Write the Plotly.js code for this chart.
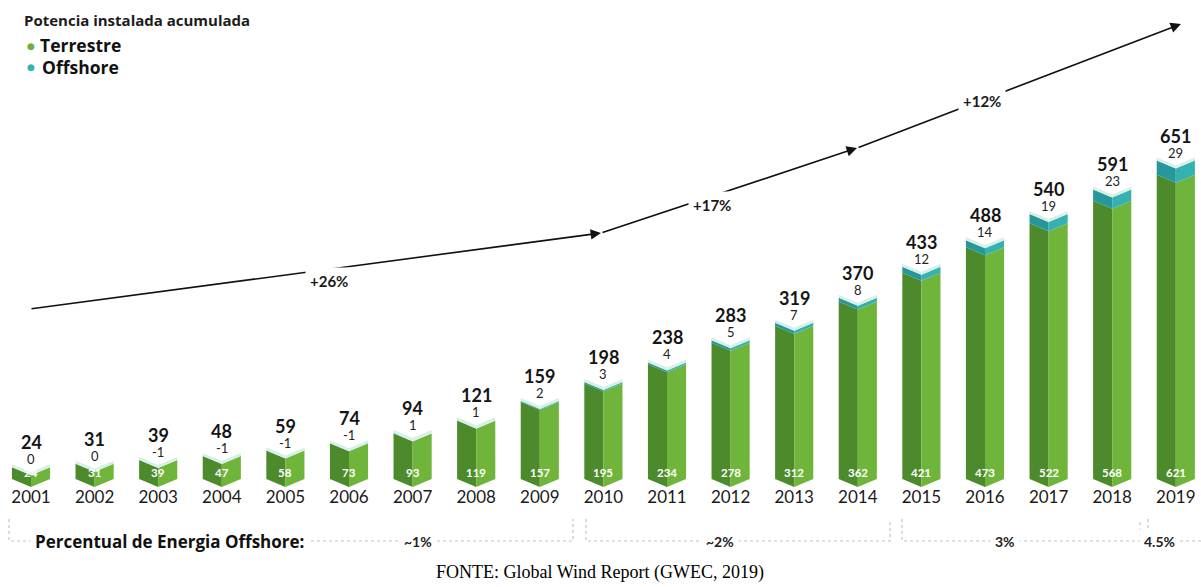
<!DOCTYPE html>
<html>
<head>
<meta charset="utf-8">
<script src="https://cdn.plot.ly/plotly-3.0.1.min.js"></script>
<style>
  html, body { margin: 0; padding: 0; background: #ffffff; }
  #chart { width: 1201px; height: 587px; }
</style>
</head>
<body>
<div id="chart"></div>
<script>
// Potência eólica instalada acumulada (GW), 2001–2019
const years      = [2001, 2002, 2003, 2004, 2005, 2006, 2007, 2008, 2009, 2010, 2011, 2012, 2013, 2014, 2015, 2016, 2017, 2018, 2019];
const totals     = [24, 31, 39, 48, 59, 74, 94, 121, 159, 198, 238, 283, 319, 370, 433, 488, 540, 591, 651];
const terrestre  = [24, 31, 39, 47, 58, 73, 93, 119, 157, 195, 234, 278, 312, 362, 421, 473, 522, 568, 621];
const offshore   = [0, 0, -1, -1, -1, -1, 1, 1, 2, 3, 4, 5, 7, 8, 12, 14, 19, 23, 29];

// Taxas de crescimento por período e participação offshore
const growthLabels  = ['+26%', '+17%', '+12%'];
const shareTitle    = 'Percentual de Energia Offshore:';
const shareLabels   = ['~1%', '~2%', '3%', '4.5%'];

// ---- layout geometry ----
const W = 1201, H = 587;
const PLOT_H = 489;               // plot area height (top margin 0)
const PX_PER_UNIT = 0.49;         // vertical scale
const BASE_PX = 479;              // baseline pixel row
const X0_PX = 31, STEP_PX = 63.6; // first bar centre and spacing
const HALF_W = 0.30;              // half bar width (x units)
const FOLD = 8 / PX_PER_UNIT;     // depth of the folded top/bottom
const CAP = 3 / PX_PER_UNIT;      // light rim on top of each bar

const yMin = -(PLOT_H - BASE_PX) / PX_PER_UNIT;
const yMax = BASE_PX / PX_PER_UNIT;
const xMin = years[0] - X0_PX / STEP_PX;
const xMax = years[0] + (W - X0_PX) / STEP_PX;

// pixel position -> paper coordinates (for decorations outside the data)
const P = (px, py) => ({ x: px / W, y: (PLOT_H - py) / PLOT_H });

const COLORS = {
  greenL: '#4c8a2b', greenR: '#70b53b',
  tealL: '#26989c', tealR: '#36b1b1',
  cap: '#d6efe9',
  dotGreen: '#6cb13e', dotTeal: '#2fb4b6'
};

// build the two folded faces (left/right) of a band between lo and hi
function faces(lo, hi) {
  const L = { x: [], y: [] }, R = { x: [], y: [] };
  years.forEach((c, i) => {
    const a = lo[i], b = hi[i];
    if (b <= a) return;
    L.x.push(c - HALF_W, c, c, c - HALF_W, c - HALF_W, null);
    L.y.push(a, a - FOLD, b - FOLD, b, a, null);
    R.x.push(c, c + HALF_W, c + HALF_W, c, c, null);
    R.y.push(a - FOLD, a, b, b - FOLD, a - FOLD, null);
  });
  return [L, R];
}

const zero = years.map(() => 0);
const offPos = offshore.map(v => Math.max(v, 0));
const topTerr = terrestre.slice();
const topAll = terrestre.map((t, i) => t + offPos[i]);
const topCap = topAll.map(t => t + CAP);

const [gL, gR] = faces(zero, topTerr);
const [tL, tR] = faces(topTerr, topAll);
const [cL, cR] = faces(topAll, topCap);

function fillTrace(poly, color, name) {
  return {
    type: 'scatter', mode: 'lines', x: poly.x, y: poly.y,
    fill: 'toself', fillcolor: color, line: { width: 0, color: color },
    hoverinfo: 'skip', showlegend: false, name: name
  };
}

const data = [
  fillTrace(gL, COLORS.greenL, 'Terrestre'),
  fillTrace(gR, COLORS.greenR, 'Terrestre'),
  fillTrace(tL, COLORS.tealL, 'Offshore'),
  fillTrace(tR, COLORS.tealR, 'Offshore'),
  fillTrace(cL, COLORS.cap, 'topo'),
  fillTrace(cR, COLORS.cap, 'topo')
];

const NUM_FONT = 'Lato, "Open Sans", sans-serif';
const TXT_FONT = '"Open Sans", Lato, sans-serif';
const annotations = [];

// value labels on each bar
years.forEach((yr, i) => {
  annotations.push({
    x: yr, y: topAll[i], xref: 'x', yref: 'y', yshift: 25, yanchor: 'middle',
    text: String(totals[i]), showarrow: false,
    font: { family: NUM_FONT, size: 18, color: '#151515', weight: 700 }
  });
  annotations.push({
    x: yr, y: topAll[i], xref: 'x', yref: 'y', yshift: 8, yanchor: 'middle',
    text: String(offshore[i]), showarrow: false,
    font: { family: NUM_FONT, size: 13, color: '#222222' }
  });
  annotations.push({
    x: yr, y: 0, xref: 'x', yref: 'y', yshift: 7, yanchor: 'middle',
    text: String(terrestre[i]), showarrow: false,
    font: { family: NUM_FONT, size: 11.5, color: '#ffffff', weight: 700 }
  });
});

// growth arrows
const arrows = [
  { from: [30, 309], to: [601, 233], label: [305, 281] },
  { from: [601, 233], to: [857, 148], label: [712, 205] },
  { from: [857, 148], to: [1181, 24], label: [1006, 101] }
];
arrows.forEach((a, k) => {
  const end = P(a.to[0], a.to[1]);
  annotations.push({
    xref: 'paper', yref: 'paper', x: end.x, y: end.y,
    ax: a.from[0] - a.to[0], ay: a.from[1] - a.to[1],
    text: '', showarrow: true, arrowhead: 2, arrowsize: 1.3,
    arrowwidth: 1.6, arrowcolor: '#111111', standoff: 0, startstandoff: 0
  });
  const lp = P(a.label[0], a.label[1]);
  annotations.push({
    xref: 'paper', yref: 'paper', x: lp.x, y: lp.y, yanchor: 'middle',
    text: growthLabels[k], showarrow: false, bgcolor: '#ffffff', borderpad: 4,
    font: { family: NUM_FONT, size: 15, color: '#1a1a1a', weight: 700 }
  });
});

// legend block
function pText(px, py, text, font, extra) {
  const p = P(px, py);
  return Object.assign({ xref: 'paper', yref: 'paper', x: p.x, y: p.y,
    text: text, showarrow: false, xanchor: 'left', yanchor: 'middle', font: font }, extra || {});
}
annotations.push(pText(22, 20, 'Potencia instalada acumulada',
  { family: TXT_FONT, size: 15, color: '#1c1c1c', weight: 700 }));
annotations.push(pText(25, 46, '●', { family: 'DejaVu Sans', size: 9, color: COLORS.dotGreen }));
annotations.push(pText(38, 45, 'Terrestre', { family: TXT_FONT, size: 17.5, color: '#111111', weight: 700 }));
annotations.push(pText(25, 67, '●', { family: 'DejaVu Sans', size: 9, color: COLORS.dotTeal }));
annotations.push(pText(40, 67, 'Offshore', { family: TXT_FONT, size: 17.5, color: '#111111', weight: 700 }));

// offshore share row
annotations.push(pText(30, 541, shareTitle,
  { family: TXT_FONT, size: 17, color: '#111111', weight: 700 },
  { bgcolor: '#ffffff', borderpad: 4 }));
const shareX = [418, 720, 1020, 1180];
shareLabels.forEach((t, k) => {
  const p = P(shareX[k], 541);
  annotations.push({ xref: 'paper', yref: 'paper', x: p.x, y: p.y, yanchor: 'middle',
    text: t, showarrow: false, bgcolor: '#ffffff', borderpad: 4,
    font: { family: NUM_FONT, size: 14, color: '#222222', weight: 700 } });
});

// source line
const src = P(600, 572);
annotations.push({ xref: 'paper', yref: 'paper', x: src.x, y: src.y, yanchor: 'middle',
  text: 'FONTE: Global Wind Report (GWEC, 2019)', showarrow: false,
  font: { family: '"Liberation Serif", "Times New Roman", serif', size: 18, color: '#000000' } });

// dotted brackets under the year axis
const brackets = [[9, 573], [586, 890], [902, 1140], [1148, 1215]];
const shapes = brackets.map(([x0, x1]) => {
  const a = P(x0, 519), b = P(x0, 541), c = P(x1, 541), d = P(x1, 519);
  return {
    type: 'path', xref: 'paper', yref: 'paper', layer: 'below',
    path: `M${a.x},${a.y} L${b.x},${b.y} L${c.x},${c.y} L${d.x},${d.y}`,
    line: { color: '#c4c4c4', width: 1.2, dash: 'dot' }
  };
});

const layout = {
  width: W, height: H,
  margin: { l: 0, r: 0, t: 0, b: H - PLOT_H, pad: 0 },
  paper_bgcolor: '#ffffff', plot_bgcolor: 'rgba(0,0,0,0)',
  showlegend: false,
  xaxis: {
    range: [xMin, xMax], tickvals: years, ticktext: years.map(String),
    anchor: 'free', position: 4 / PLOT_H,
    showgrid: false, zeroline: false, showline: false, ticks: '',
    tickfont: { family: NUM_FONT, size: 17, color: '#1a1a1a' },
    fixedrange: true
  },
  yaxis: { range: [yMin, yMax], visible: false, fixedrange: true },
  annotations: annotations,
  shapes: shapes
};

Plotly.newPlot('chart', data, layout, { displayModeBar: false, staticPlot: true });
</script>
</body>
</html>
